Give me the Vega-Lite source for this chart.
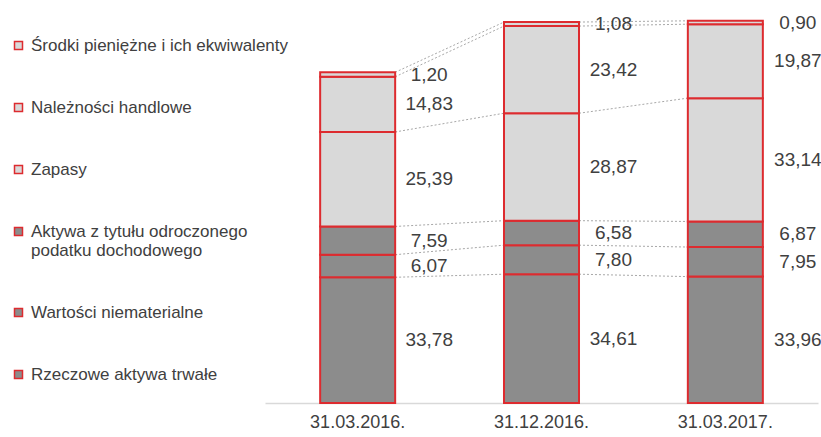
{
  "$schema": "https://vega.github.io/schema/vega-lite/v6.json",
  "width": 553,
  "height": 393,
  "autosize": {"type": "none"},
  "padding": {"left": 265, "top": 10, "right": 3, "bottom": 34},
  "background": "white",
  "config": {"view": {"stroke": null}, "font": "Liberation Sans"},
  "data": {
    "values": [
      {"period": "31.03.2016.", "cat": "Rzeczowe aktywa trwałe", "value": 33.78},
      {"period": "31.03.2016.", "cat": "Wartości niematerialne", "value": 6.07},
      {"period": "31.03.2016.", "cat": "Aktywa z tytułu odroczonego podatku dochodowego", "value": 7.59},
      {"period": "31.03.2016.", "cat": "Zapasy", "value": 25.39},
      {"period": "31.03.2016.", "cat": "Należności handlowe", "value": 14.83},
      {"period": "31.03.2016.", "cat": "Środki pieniężne i ich ekwiwalenty", "value": 1.20},
      {"period": "31.12.2016.", "cat": "Rzeczowe aktywa trwałe", "value": 34.61},
      {"period": "31.12.2016.", "cat": "Wartości niematerialne", "value": 7.80},
      {"period": "31.12.2016.", "cat": "Aktywa z tytułu odroczonego podatku dochodowego", "value": 6.58},
      {"period": "31.12.2016.", "cat": "Zapasy", "value": 28.87},
      {"period": "31.12.2016.", "cat": "Należności handlowe", "value": 23.42},
      {"period": "31.12.2016.", "cat": "Środki pieniężne i ich ekwiwalenty", "value": 1.08},
      {"period": "31.03.2017.", "cat": "Rzeczowe aktywa trwałe", "value": 33.96},
      {"period": "31.03.2017.", "cat": "Wartości niematerialne", "value": 7.95},
      {"period": "31.03.2017.", "cat": "Aktywa z tytułu odroczonego podatku dochodowego", "value": 6.87},
      {"period": "31.03.2017.", "cat": "Zapasy", "value": 33.14},
      {"period": "31.03.2017.", "cat": "Należności handlowe", "value": 19.87},
      {"period": "31.03.2017.", "cat": "Środki pieniężne i ich ekwiwalenty", "value": 0.90}
    ]
  },
  "transform": [
    {"calculate": "indexof('Rzeczowe aktywa trwałe|Wartości niematerialne|Aktywa z tytułu odroczonego podatku dochodowego|Zapasy|Należności handlowe|Środki pieniężne i ich ekwiwalenty', datum.cat)", "as": "o"},
    {"window": [{"op": "sum", "field": "value", "as": "y1"}], "groupby": ["period"], "sort": [{"field": "o", "order": "ascending"}], "frame": [null, 0]},
    {"calculate": "datum.y1 - datum.value", "as": "y0"},
    {"calculate": "(datum.y0 + datum.y1) / 2", "as": "mid"},
    {"calculate": "replace(format(datum.value, '.2f'), '.', ',')", "as": "lbl"}
  ],
  "resolve": {"scale": {"x": "independent"}, "axis": {"x": "independent"}},
  "layer": [
    {
      "transform": [
        {"calculate": "datum.period == '31.03.2016.' ? 0 : (datum.period == '31.12.2016.' ? 1 : 2)", "as": "pk"},
        {"window": [{"op": "lead", "field": "y1", "as": "y1n"}, {"op": "lead", "field": "pk", "as": "pkn"}], "groupby": ["cat"], "sort": [{"field": "pk", "order": "ascending"}]},
        {"filter": "isValid(datum.pkn)"}
      ],
      "mark": {"type": "rule", "color": "#a8a8a8", "strokeDash": [2, 2], "strokeWidth": 1, "xOffset": 37.5, "x2Offset": -37.5},
      "encoding": {
        "x": {"field": "pk", "type": "quantitative", "scale": {"domain": [-0.504, 2.504], "nice": false, "zero": false}, "axis": null},
        "x2": {"field": "pkn"},
        "y": {"field": "y1", "type": "quantitative", "scale": {"domain": [0, 105.6], "nice": false, "zero": true}, "axis": null},
        "y2": {"field": "y1n"}
      }
    },
    {
      "mark": {"type": "bar", "stroke": "#dd2b2f", "strokeWidth": 2},
      "encoding": {
        "x": {
          "field": "period", "type": "nominal",
          "scale": {"domain": ["31.03.2016.", "31.12.2016.", "31.03.2017."], "paddingInner": 0.592, "paddingOuter": 0.3},
          "axis": {"title": null, "labelAngle": 0, "ticks": false, "domainColor": "#d9d9d9", "domainWidth": 1.5, "labelFontSize": 18, "labelColor": "#404040", "labelPadding": 10}
        },
        "y": {"field": "y0", "type": "quantitative", "scale": {"domain": [0, 105.6], "nice": false, "zero": true}, "axis": null},
        "y2": {"field": "y1"},
        "fill": {
          "field": "cat", "type": "nominal",
          "scale": {
            "domain": ["Środki pieniężne i ich ekwiwalenty", "Należności handlowe", "Zapasy", "Aktywa z tytułu odroczonego podatku dochodowego", "Wartości niematerialne", "Rzeczowe aktywa trwałe"],
            "range": ["#d9d9d9", "#d9d9d9", "#d9d9d9", "#8c8c8c", "#8c8c8c", "#8c8c8c"]
          },
          "legend": {
            "orient": "none", "legendX": -255, "legendY": 27, "title": null,
            "symbolType": "square", "symbolSize": 64, "symbolStrokeColor": "#dd2b2f", "symbolStrokeWidth": 1.5,
            "labelFontSize": 17, "labelColor": "#404040", "labelLimit": 320, "labelOffset": 4,
            "rowPadding": 44,
            "labelExpr": "datum.label == 'Aktywa z tytułu odroczonego podatku dochodowego' ? split('Aktywa z tytułu odroczonego|podatku dochodowego', '|') : datum.label"
          }
        }
      }
    },
    {
      "mark": {"type": "text", "dx": 72, "fontSize": 19, "color": "#404040", "align": "center", "baseline": "middle"},
      "encoding": {
        "x": {
          "field": "period", "type": "nominal",
          "scale": {"domain": ["31.03.2016.", "31.12.2016.", "31.03.2017."], "paddingInner": 0.592, "paddingOuter": 0.3},
          "axis": null
        },
        "y": {"field": "mid", "type": "quantitative", "scale": {"domain": [0, 105.6], "nice": false, "zero": true}, "axis": null},
        "text": {"field": "lbl"}
      }
    }
  ]
}
